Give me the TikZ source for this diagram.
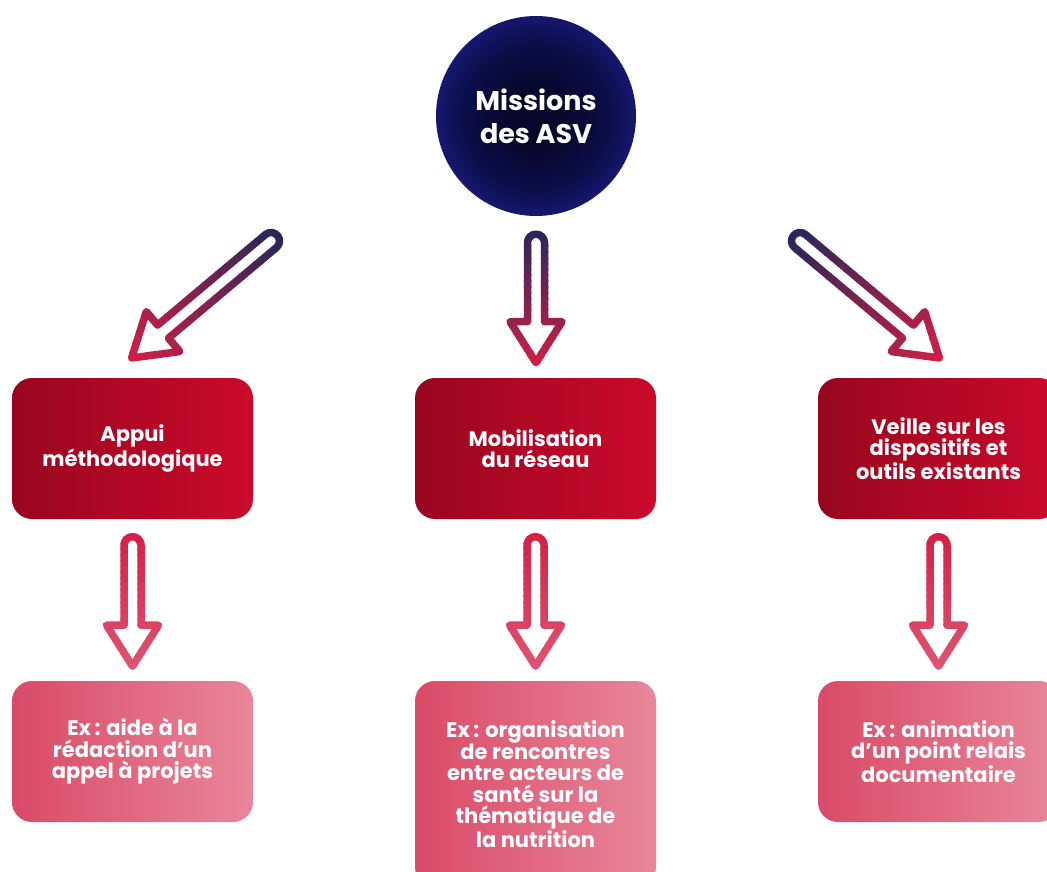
\documentclass[tikz,border=0pt]{standalone}
\usepackage{fontspec}
\setsansfont{Poppins}
\usetikzlibrary{calc}

\definecolor{asvnavy}{HTML}{26255A}
\definecolor{asvred}{HTML}{D41F45}
\definecolor{asvpink}{HTML}{DE5673}
\definecolor{boxdark}{HTML}{98061F}
\definecolor{boxbright}{HTML}{CB0A2B}
\definecolor{exdark}{HTML}{D94A68}
\definecolor{exlight}{HTML}{E8879A}
\definecolor{coredark}{HTML}{06072A}
\definecolor{coremid}{HTML}{0B0D48}
\definecolor{corerim}{HTML}{15186E}

% the circle edge sits at 25bp of the shading
\pgfdeclareradialshading{asvglow}{\pgfpoint{0bp}{0bp}}{color(0bp)=(coredark); color(7bp)=(coredark); color(18bp)=(coremid); color(25bp)=(corerim); color(50bp)=(corerim)}

\tikzset{
  pics/hollow arrow/.style n args={3}{code={
    % one outline, cut in thin bands so that its colour runs from tail to tip
    \foreach \i in {0,...,23}{
      \pgfmathtruncatemacro\pct{100*(\i+0.5)/24}
      \begin{scope}
        \clip ({-14+\i*(#1+20)/24-0.4},-40) rectangle ({-14+(\i+1)*(#1+20)/24+0.4},40);
        \draw[line width=7.5pt, line join=round, #3!\pct!#2]
          (0,8.5) arc[start angle=90,end angle=270,radius=8.5]
          -- (#1-41,-8.5) -- (#1-41,-26) -- (#1,0) -- (#1-41,26) -- (#1-41,8.5) -- cycle;
      \end{scope}
    }
  }}
}

\begin{document}
\begin{tikzpicture}[x=1pt, y=-1pt,
    mission/.style={rounded corners=20pt, minimum width=241pt, minimum height=141pt,
      left color=boxdark, right color=boxbright, text=white, align=center,
      font=\sffamily\bfseries\fontsize{21}{21.5}\selectfont},
    example/.style={mission, left color=exdark, right color=exlight}]
    \useasboundingbox (0,0) rectangle (1047,872);
    \clip (0,0) rectangle (1047,872);

    % main circle
    \node[circle, minimum size=200pt, shade, shading=asvglow, text=white, align=center,
          font=\sffamily\bfseries\fontsize{27}{33}\selectfont] (missions) at (536,116) {Missions\\des ASV};

    % the three missions
    \node[mission] (appui) at (132.5,448.5) {Appui\\méthodologique};
    \node[mission] (mobil) at (535.5,448.5) {Mobilisation\\du réseau};
    \node[mission] (veille) at (938.5,448.5) {Veille sur les\\dispositifs et\\outils existants};

    % examples
    \node[example] (exappui) at (132.5,751.5) {Ex\,: aide à la\\rédaction d’un\\appel à projets};
    \node[example, minimum height=206pt] (exmobil) at (535.5,784)
        {Ex\,: organisation\\de rencontres\\entre acteurs de\\santé sur la\\thématique de\\la nutrition};
    \node[example] (exveille) at (938.5,751.5) {Ex\,: animation\\d’un point relais\\documentaire};

    % arrows from the circle
    \pic[rotate=-140] at ($(missions)+(-265,125)$) {hollow arrow={182}{asvnavy}{asvred}};
    \pic[rotate=-90] at ($(missions.south)+(0,26.5)$) {hollow arrow={120}{asvnavy}{asvred}};
    \pic[rotate=-40] at ($(missions)+(264,125)$) {hollow arrow={182}{asvnavy}{asvred}};

    % arrows to the examples
    \pic[rotate=-90] at ($(appui.south)+(0,26)$) {hollow arrow={121}{asvred}{asvpink}};
    \pic[rotate=-90] at ($(mobil.south)+(0,26)$) {hollow arrow={121}{asvred}{asvpink}};
    \pic[rotate=-90] at ($(veille.south)+(0,26)$) {hollow arrow={121}{asvred}{asvpink}};

\end{tikzpicture}
\end{document}
